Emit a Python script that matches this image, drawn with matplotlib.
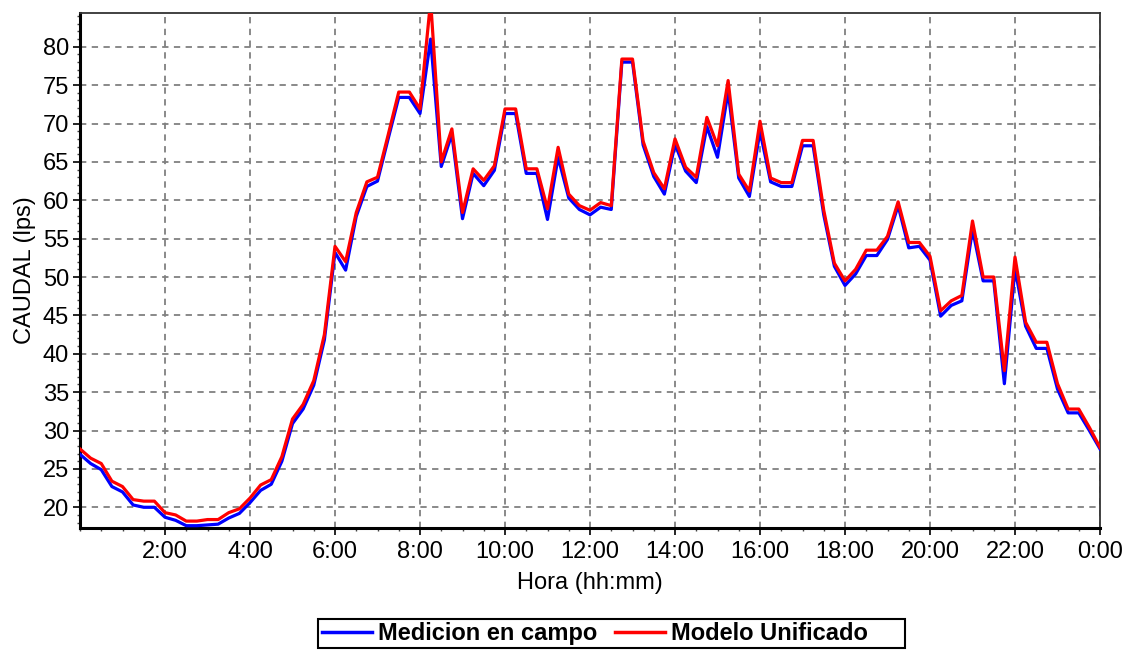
import numpy as np
import matplotlib
matplotlib.use("Agg")
import matplotlib.pyplot as plt
from matplotlib.ticker import MultipleLocator, FixedLocator
from matplotlib.patches import Rectangle

plt.rcParams['font.family'] = ['Liberation Sans', 'DejaVu Sans']

# 15-minute samples from 0:00 to 24:00
medicion = [26.9, 25.7, 24.9, 22.7, 22.0, 20.3, 20.0, 20.0, 18.7, 18.3, 17.6, 17.6,
            17.7, 17.8, 18.6, 19.2, 20.6, 22.2, 23.0, 26.0, 30.9, 32.8, 35.9, 41.8,
            53.2, 50.9, 57.9, 61.8, 62.5, 68.0, 73.4, 73.4, 71.3, 81.0, 64.4, 68.6,
            57.6, 63.5, 61.9, 63.9, 71.3, 71.3, 63.5, 63.5, 57.5, 65.6, 60.3, 58.8,
            58.1, 59.1, 58.8, 78.0, 78.0, 67.2, 63.1, 60.8, 67.3, 63.8, 62.3, 69.6,
            65.6, 74.2, 62.9, 60.5, 69.0, 62.4, 61.8, 61.8, 67.1, 67.1, 58.1, 51.4,
            48.9, 50.4, 52.8, 52.8, 54.9, 59.3, 53.8, 54.0, 52.2, 44.9, 46.3, 46.9,
            56.2, 49.5, 49.5, 36.1, 51.1, 43.6, 40.7, 40.7, 35.4, 32.3, 32.3, 30.0,
            27.6]
modelo = [27.6, 26.4, 25.7, 23.4, 22.7, 21.0, 20.8, 20.8, 19.3, 19.0, 18.2, 18.2,
          18.4, 18.4, 19.3, 19.8, 21.2, 22.9, 23.6, 26.6, 31.5, 33.4, 36.5, 42.5,
          54.0, 52.0, 58.4, 62.4, 63.0, 68.5, 74.1, 74.1, 71.9, 86.0, 65.0, 69.3,
          58.4, 64.1, 62.6, 64.5, 71.9, 71.9, 64.1, 64.1, 58.9, 66.9, 60.8, 59.3,
          58.7, 59.7, 59.3, 78.4, 78.4, 67.7, 63.6, 61.5, 68.0, 64.3, 63.0, 70.8,
          67.1, 75.6, 63.4, 61.2, 70.3, 62.9, 62.3, 62.3, 67.8, 67.8, 58.7, 51.8,
          49.5, 51.0, 53.5, 53.5, 55.3, 59.8, 54.5, 54.5, 52.7, 45.6, 46.9, 47.6,
          57.3, 50.0, 50.0, 37.8, 52.6, 44.1, 41.5, 41.5, 36.1, 32.8, 32.8, 30.4,
          27.8]
series_names = ["Medicion en campo", "Modelo Unificado"]
x_tick_hours = [2, 4, 6, 8, 10, 12, 14, 16, 18, 20, 22, 24]
x_tick_labels = ["2:00", "4:00", "6:00", "8:00", "10:00", "12:00", "14:00",
                 "16:00", "18:00", "20:00", "22:00", "0:00"]
y_ticks = [20, 25, 30, 35, 40, 45, 50, 55, 60, 65, 70, 75, 80]

hours = np.arange(len(modelo)) * 0.25

W, H = 1131, 650
fig = plt.figure(figsize=(W/100, H/100), dpi=100)
ax = fig.add_axes([80/W, 1 - 528/H, (1100-80)/W, (528-13)/H])

ax.plot(hours, medicion, color='#0000ff', lw=2.3, label=series_names[0], zorder=3)
ax.plot(hours, modelo, color='#ff0000', lw=2.3, label=series_names[1], zorder=4)

ax.set_xlim(0, 24)
ax.set_ylim(17.3, 84.4)
ax.xaxis.set_major_locator(FixedLocator(x_tick_hours))
ax.set_xticklabels(x_tick_labels)
ax.xaxis.set_minor_locator(MultipleLocator(0.5))
ax.set_yticks(y_ticks)
ax.yaxis.set_minor_locator(MultipleLocator(1))

ax.grid(True, which='major', color='#808080', linestyle=(0, (3.5, 3)), linewidth=1.3)
ax.set_axisbelow(True)

ax.tick_params(axis='both', which='major', direction='out', length=5, width=1.2,
               labelsize=17, colors='black')
ax.tick_params(axis='x', which='major', pad=4)
ax.tick_params(axis='y', which='major', pad=3)
ax.tick_params(axis='both', which='minor', direction='out', length=2.5, width=1.0,
               colors='#444444')

for side in ['left', 'bottom']:
    ax.spines[side].set_linewidth(2.2)
    ax.spines[side].set_color('black')
for side in ['top', 'right']:
    ax.spines[side].set_linewidth(1.3)
    ax.spines[side].set_color('#333333')

ax.set_xlabel("Hora (hh:mm)", fontsize=17, labelpad=7)
ax.set_ylabel("CAUDAL (lps)", fontsize=17, labelpad=5)

# legend frame (drawn as a figure patch) and legend entries
fig.patches.append(Rectangle((318/W, 1 - 648/H), (905-318)/W, (648-619)/H,
                             transform=fig.transFigure, fill=False,
                             edgecolor='black', linewidth=1.5))
leg = fig.legend(loc='center left', bbox_to_anchor=(322/W, 1 - 633.5/H), ncol=2,
                 frameon=False, prop={'weight': 'bold', 'size': 17},
                 handlelength=2.1, handletextpad=0.28, columnspacing=0.75,
                 borderpad=0.0, borderaxespad=0.0)
for line in leg.get_lines():
    line.set_linewidth(2.5)

fig.savefig("out.png", dpi=100)
